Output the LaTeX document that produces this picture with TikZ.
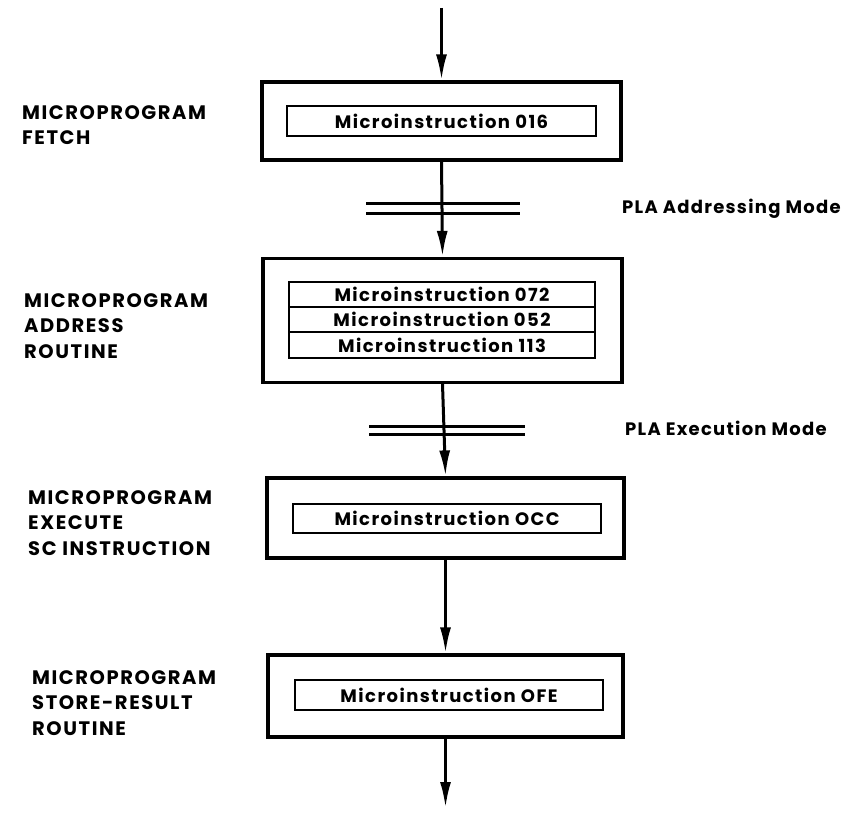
\documentclass[tikz,border=0pt]{standalone}
\usepackage{fontspec}
\setmainfont{Poppins}[LetterSpace=4]
\newfontfamily\sidefont{Poppins}[LetterSpace=8]
\newfontfamily\boxfont{Poppins}[LetterSpace=8]
\newfontfamily\modefont{Poppins}[LetterSpace=7]
\usetikzlibrary{arrows.meta}
\begin{document}
\begin{tikzpicture}[x=1pt,y=-1pt,
  outerbox/.style={draw, line width=3.2pt, inner sep=0pt},
  innerbox/.style={draw, line width=2.6pt, inner sep=0pt, font=\boxfont\fontsize{18}{25.5}\selectfont\bfseries},
  sidelabel/.style={font=\sidefont\fontsize{19.5}{25.5}\selectfont\bfseries, align=left, anchor=north west, inner sep=0pt},
  modelabel/.style={font=\modefont\fontsize{18}{25.5}\selectfont\bfseries, anchor=base west, inner sep=0pt},
  flow/.style={line width=3pt, -{Latex[length=26pt,width=11pt]}},
  bar/.style={line width=3pt}]
\useasboundingbox (0,0) rectangle (842,813);

% outer boxes
\node[outerbox, minimum width=359pt, minimum height=78pt] (b1) at (441.5,121) {};
\node[outerbox, minimum width=359pt, minimum height=124pt] (b2) at (442.5,320.5) {};
\node[outerbox, minimum width=357pt, minimum height=80pt] (b3) at (445.5,518) {};
\node[outerbox, minimum width=355pt, minimum height=82pt] (b4) at (445.5,696) {};

% inner boxes
\node[innerbox, minimum width=309pt, minimum height=30pt] (i1) at (441.5,121) {Microinstruction 016};
\node[innerbox, minimum width=306pt, minimum height=25pt] (i2a) at (442,294.5) {Microinstruction 072};
\node[innerbox, minimum width=306pt, minimum height=25pt] (i2b) at (442,319.5) {Microinstruction 052};
\node[innerbox, minimum width=306pt, minimum height=26pt] (i2c) at (442,345) {Microinstruction 113};
\node[innerbox, minimum width=308pt, minimum height=29pt] (i3) at (447,518.5) {Microinstruction OCC};
\node[innerbox, minimum width=308pt, minimum height=30pt] (i4) at (449,695) {Microinstruction OFE};

% side labels
\node[sidelabel] (l1) at (22,105) {MICROPROGRAM\\FETCH};
\node[sidelabel] (l2) at (24,293) {MICROPROGRAM\\ADDRESS\\ROUTINE};
\node[sidelabel] (l3) at (28,490) {MICROPROGRAM\\EXECUTE\\SC INSTRUCTION};
\node[sidelabel] (l4) at (32,670) {MICROPROGRAM\\STORE-RESULT\\ROUTINE};

% mode labels
\node[modelabel] (m1) at (622,213) {PLA Addressing Mode};
\node[modelabel] (m2) at (625,435) {PLA Execution Mode};

% mode bars
\draw[bar] (366,203) -- (520,203);
\draw[bar] (366,213) -- (520,213);
\draw[bar] (369,426) -- (525,426);
\draw[bar] (369,434) -- (525,434);

% flow arrows
\coordinate (start) at (441.5,8);
\coordinate (finish) at (445.5,808);
\draw[flow] (start) -- (b1.north);
\draw[flow] (b1.south) -- (b2.north);
\draw[flow] (b2.south) -- (b3.north);
\draw[flow] (b3.south) -- (b4.north);
\draw[flow] (b4.south) -- (finish);
\end{tikzpicture}
\end{document}
